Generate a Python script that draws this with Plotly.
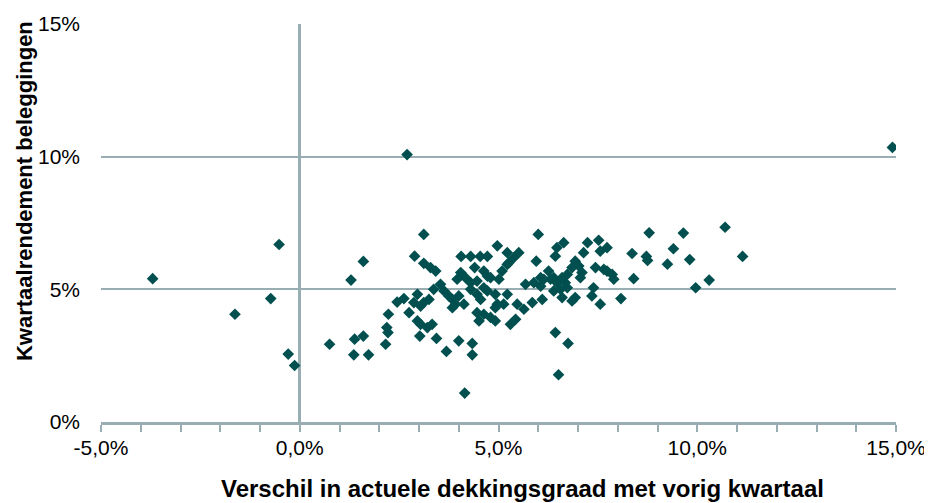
import plotly.graph_objects as go

# Verschil in actuele dekkingsgraad met vorig kwartaal (%)
dekking_verschil = [
    -3.70, -0.52, -0.73, -1.63, -0.29, -0.13, 0.75, 14.91, 2.70, 4.15,
    1.60, 1.29, 1.38, 1.60, 1.36, 1.73, 2.23, 2.19, 2.22, 2.16, 2.45, 2.62, 2.75,
    3.12, 2.89, 3.12, 3.29, 3.42, 4.06, 4.30, 4.54, 4.72, 4.97, 5.22, 5.51, 5.38,
    5.26, 5.95, 4.40, 4.05, 3.96, 4.17, 4.30, 4.46, 4.63, 4.72, 4.80, 5.01, 5.09,
    5.22, 4.30, 4.46, 4.63, 4.72, 4.92, 5.22, 4.97, 5.13, 4.46, 4.63, 4.80, 4.92,
    4.51, 5.43, 5.30, 3.54, 3.37, 3.63, 3.75, 3.84, 3.92, 4.00, 4.13, 2.96, 2.87,
    3.04, 2.96, 3.04, 3.33, 3.21, 3.02, 3.44, 3.69, 4.00, 4.34, 4.34, 3.25, 3.12,
    3.84, 4.92, 4.55,
    6.00, 6.47, 6.64, 6.43, 5.68, 5.89, 6.06, 6.14, 6.26, 6.39, 6.47, 6.60, 6.73,
    6.39, 6.60, 6.10, 5.85, 5.64, 5.47, 7.24, 7.52, 7.56, 7.73, 7.14, 6.93, 7.02,
    7.10, 6.85, 7.06, 7.44, 7.65, 6.06, 6.31, 6.68, 6.73, 6.56, 6.93, 6.85, 7.39,
    7.35, 7.56, 6.43, 6.75, 6.51,
    8.79, 9.65, 9.40, 8.36, 8.72, 8.75, 9.25, 9.81, 8.40, 9.96, 10.30, 8.08, 7.73,
    7.86, 7.90, 10.70, 11.14,
]

# Kwartaalrendement beleggingen (%)
kwartaalrendement = [
    5.40, 6.69, 4.65, 4.06, 2.56, 2.13, 2.93, 10.35, 10.08, 1.09,
    6.05, 5.35, 3.12, 3.24, 2.53, 2.53, 4.06, 3.56, 3.37, 2.93, 4.52, 4.65, 4.12,
    7.07, 6.25, 5.98, 5.82, 5.69, 6.24, 6.24, 6.24, 6.24, 6.64, 6.38, 6.38, 6.19,
    6.00, 6.06, 5.82, 5.63, 5.38, 5.44, 5.25, 5.31, 5.69, 5.50, 5.44, 5.38, 5.69,
    5.94, 5.00, 4.81, 5.06, 4.94, 4.81, 4.81, 4.44, 4.44, 4.12, 4.06, 3.94, 3.81,
    3.81, 3.87, 3.68, 5.19, 5.00, 4.94, 4.75, 4.62, 4.44, 4.75, 4.44, 4.81, 4.50,
    4.37, 3.81, 3.68, 3.68, 3.56, 3.24, 3.15, 2.66, 3.06, 2.96, 2.53, 4.62, 4.50,
    4.31, 4.31, 4.62,
    7.07, 6.57, 6.76, 6.25, 5.19, 5.25, 5.12, 5.38, 5.69, 5.44, 5.25, 5.44, 5.56,
    4.94, 4.69, 4.62, 4.50, 4.25, 4.44, 6.76, 6.85, 6.44, 6.57, 6.38, 6.06, 5.88,
    5.63, 5.82, 5.44, 5.82, 5.75, 5.44, 5.38, 5.25, 5.06, 5.00, 4.69, 4.56, 5.06,
    4.75, 4.44, 3.37, 2.96, 1.78,
    7.13, 7.12, 6.53, 6.35, 6.24, 6.09, 5.95, 6.12, 5.40, 5.06, 5.35, 4.65, 5.69,
    5.56, 5.38, 7.34, 6.24,
]

x_tickvals = [-5, 0, 5, 10, 15]
x_ticktext = ["-5,0%", "0,0%", "5,0%", "10,0%", "15,0%"]
y_tickvals = [0, 5, 10, 15]
y_ticktext = ["0%", "5%", "10%", "15%"]

x_title = "Verschil in actuele dekkingsgraad met vorig kwartaal"
y_title = "Kwartaalrendement beleggingen"

line_col = "#98AEB3"
marker_col = "#01504F"
font_fam = "Liberation Sans, Arial, sans-serif"

fig = go.Figure(
    go.Scatter(
        x=dekking_verschil,
        y=kwartaalrendement,
        mode="markers",
        marker=dict(symbol="diamond", size=9, color=marker_col, line=dict(width=0)),
        hoverinfo="x+y",
    )
)

# page body has an 8px default margin; figure is sized to fit inside the window
fig.update_layout(
    width=924,
    height=495,
    margin=dict(l=93, r=36, t=16, b=81),
    paper_bgcolor="white",
    plot_bgcolor="white",
    showlegend=False,
    font=dict(family=font_fam, size=20, color="#000000"),
    annotations=[
        dict(
            text="<b>" + x_title + "</b>",
            xref="paper", yref="paper",
            x=0.53, y=-0.166,
            xanchor="center", yanchor="middle",
            showarrow=False,
            font=dict(family=font_fam, size=24, color="#000000"),
        ),
        dict(
            text="<b>" + y_title + "</b>",
            xref="paper", yref="paper",
            x=-0.097, y=0.58,
            xanchor="center", yanchor="middle",
            textangle=-90,
            showarrow=False,
            font=dict(family=font_fam, size=22, color="#000000"),
        ),
    ],
)

fig.update_xaxes(
    range=[-5, 15],
    automargin=False,
    tickmode="array",
    tickvals=x_tickvals,
    ticktext=x_ticktext,
    showgrid=False,
    zeroline=True,
    zerolinecolor=line_col,
    zerolinewidth=3,
    showline=True,
    linecolor=line_col,
    linewidth=3,
    ticks="outside",
    ticklen=7,
    tickwidth=2,
    tickcolor=line_col,
    minor=dict(tickmode="linear", tick0=-5, dtick=1, ticks="outside",
               ticklen=7, tickwidth=2, tickcolor=line_col, showgrid=False),
    tickfont=dict(family=font_fam, size=21, color="#000000"),
    ticklabelstandoff=-2,
    fixedrange=True,
)

fig.update_yaxes(
    range=[0, 15],
    automargin=False,
    tickmode="array",
    tickvals=y_tickvals,
    ticktext=y_ticktext,
    showgrid=True,
    gridcolor=line_col,
    gridwidth=2,
    zeroline=False,
    showline=False,
    ticks="",
    tickfont=dict(family=font_fam, size=21, color="#000000"),
    ticklabelstandoff=20,
    fixedrange=True,
)

fig.write_html("out.html")
